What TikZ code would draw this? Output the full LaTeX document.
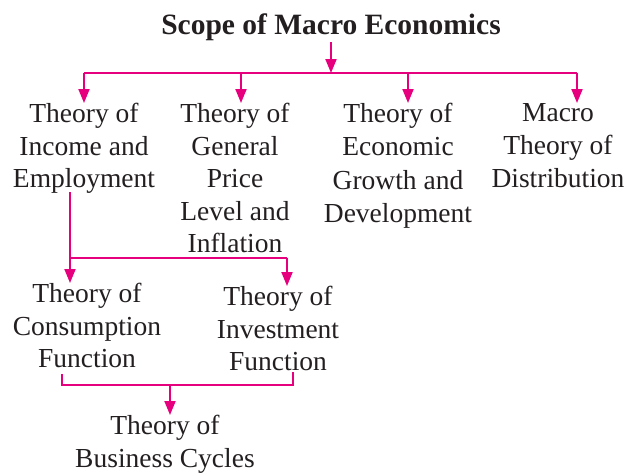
\documentclass[tikz,border=0pt]{standalone}
\usepackage{fontspec}
\setmainfont{Liberation Serif}
\usetikzlibrary{arrows.meta}
\definecolor{mag}{HTML}{E6007E}
\definecolor{ink}{HTML}{231F20}
\begin{document}
\begin{tikzpicture}[x=1pt,y=-1pt,
  lbl/.style={anchor=north,align=center,inner sep=0pt,text=ink,
    font=\fontsize{27.5}{32.5}\selectfont},
  lblw/.style={lbl,font=\fontsize{27.5}{33.3}\selectfont},
  con/.style={draw=mag,line width=2pt},
  arr/.style={con,-{Triangle[width=11pt,length=14pt]}}]
\useasboundingbox (0,0) rectangle (628,475);
\node[anchor=base,inner sep=0pt,text=ink,font=\fontsize{29.5}{34}\selectfont\bfseries] (title) at (331,34) {Scope of Macro Economics};
\node[lbl] (n1) at (84,103) {Theory of\\Income and\\Employment};
\node[lbl] (n2) at (235,103) {Theory of\\General\\Price\\Level and\\Inflation};
\node[lblw] (n3) at (398,103) {Theory of\\Economic\\Growth and\\Development};
\node[lblw] (n4) at (558,103) {Macro\\Theory of\\Distribution};
\node[lbl] (c1) at (87,283) {Theory of\\Consumption\\Function};
\node[lbl] (c2) at (278,286) {Theory of\\Investment\\Function};
\node[lbl] (b1) at (165,415) {Theory of\\Business Cycles};
% top level
\coordinate (t0) at (331,42);
\coordinate (j0) at (331,73);
\coordinate (d1) at (84,73);
\coordinate (d2) at (241,73);
\coordinate (d3) at (408,73);
\coordinate (d4) at (577,73);
\draw[arr] (t0) -- (j0);
\draw[con] (d1) -- (d4);
\draw[arr] (d1) -- (d1 |- n1.north);
\draw[arr] (d2) -- (d2 |- n2.north);
\draw[arr] (d3) -- (d3 |- n3.north);
\draw[arr] (d4) -- (d4 |- n4.north);
% second level
\coordinate (e0) at (70,192);
\coordinate (e1) at (70,258);
\coordinate (e2) at (287,258);
\draw[con] (e0) -- (e1) -- (e2);
\draw[arr] (e1) -- (e1 |- c1.north);
\draw[arr] (e2) -- (e2 |- c2.north);
% third level
\coordinate (f0) at (62,374);
\coordinate (f1) at (62,385);
\coordinate (f2) at (293,385);
\coordinate (f3) at (293,372);
\coordinate (g0) at (170,385);
\draw[con] (f0) -- (f1) -- (f2) -- (f3);
\draw[arr] (g0) -- (g0 |- b1.north);
\end{tikzpicture}
\end{document}
